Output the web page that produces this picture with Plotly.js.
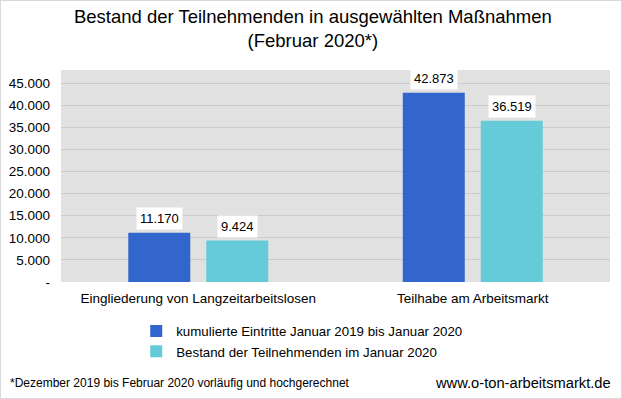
<!DOCTYPE html>
<html><head><meta charset="utf-8">
<script src="https://cdn.plot.ly/plotly-3.0.1.min.js"></script>
<style>
html,body{margin:0;padding:0;background:#fff;}
#chart{width:620px;height:397px;border:1px solid #d9d9d9;}
</style></head>
<body><div id="chart"></div>
<script>
var categories = ["Eingliederung von Langzeitarbeitslosen", "Teilhabe am Arbeitsmarkt"];
var seriesNames = ["kumulierte Eintritte Januar 2019 bis Januar 2020", "Bestand der Teilnehmenden im Januar 2020"];
var eintritte = [11170, 42873];
var bestand = [9424, 36519];
var tickVals = [0, 5000, 10000, 15000, 20000, 25000, 30000, 35000, 40000, 45000];
var tickText = ["-", "5.000", "10.000", "15.000", "20.000", "25.000", "30.000", "35.000", "40.000", "45.000"];
var labelsEintritte = ["11.170", "42.873"];
var labelsBestand = ["9.424", "36.519"];

var font = "Liberation Sans, Arial, sans-serif";
var traces = [
  {type:"bar", x:categories, y:eintritte, name:seriesNames[0], marker:{color:"#3366cc"}, hoverinfo:"none"},
  {type:"bar", x:categories, y:bestand, name:seriesNames[1], marker:{color:"#66cbd8"}, hoverinfo:"none"}
];
var ann = [];
function addLabels(vals, labels, shift){
  for (var i=0;i<categories.length;i++){
    ann.push({x:categories[i], y:vals[i], xref:"x", yref:"y", text:labels[i], showarrow:false,
      xshift:shift, yshift:14, bgcolor:"#ffffff", borderpad:3,
      font:{family:font, size:13, color:"#000"}});
  }
}
addLabels(eintritte, labelsEintritte, -39);
addLabels(bestand, labelsBestand, 39);
ann.push({xref:"paper", yref:"paper", x:-0.096, y:-0.475, xanchor:"left", yanchor:"middle", showarrow:false,
  text:"*Dezember 2019 bis Februar 2020 vorläufig und hochgerechnet", font:{family:font, size:12, color:"#000"}});
ann.push({xref:"paper", yref:"paper", x:1.005, y:-0.475, xanchor:"right", yanchor:"middle", showarrow:false,
  text:"www.o-ton-arbeitsmarkt.de", font:{family:font, size:14.7, color:"#000"}});

var layout = {
  width:620, height:397,
  margin:{l:60, r:11, t:69, b:116},
  paper_bgcolor:"#ffffff", plot_bgcolor:"#e1e1e1",
  title:{text:"Bestand der Teilnehmenden in ausgewählten Maßnahmen<br>(Februar 2020*)", x:0.503, xanchor:"center", y:0.945, yanchor:"top",
    font:{family:font, size:18.5, color:"#000"}},
  barmode:"group", bargap:0.432, bargroupgap:0.205,
  xaxis:{showgrid:false, zeroline:false, showline:false, ticks:"", ticklabelstandoff:6, tickfont:{family:font, size:13.5, color:"#000"}, fixedrange:true},
  yaxis:{range:[0,48000], tickvals:tickVals, ticktext:tickText, showgrid:true, gridcolor:"#cbcbcb", gridwidth:1,
    zeroline:false, showline:false, ticks:"", ticklabelstandoff:10, tickfont:{family:font, size:13.5, color:"#000"}, fixedrange:true},
  showlegend:true,
  legend:{orientation:"v", x:0.137, y:-0.16, xanchor:"left", yanchor:"top", font:{family:font, size:13.3, color:"#000"},
    itemwidth:30, tracegroupgap:0, bgcolor:"rgba(0,0,0,0)"},
  annotations:ann
};
Plotly.newPlot("chart", traces, layout, {displayModeBar:false, staticPlot:true});
</script></body></html>
